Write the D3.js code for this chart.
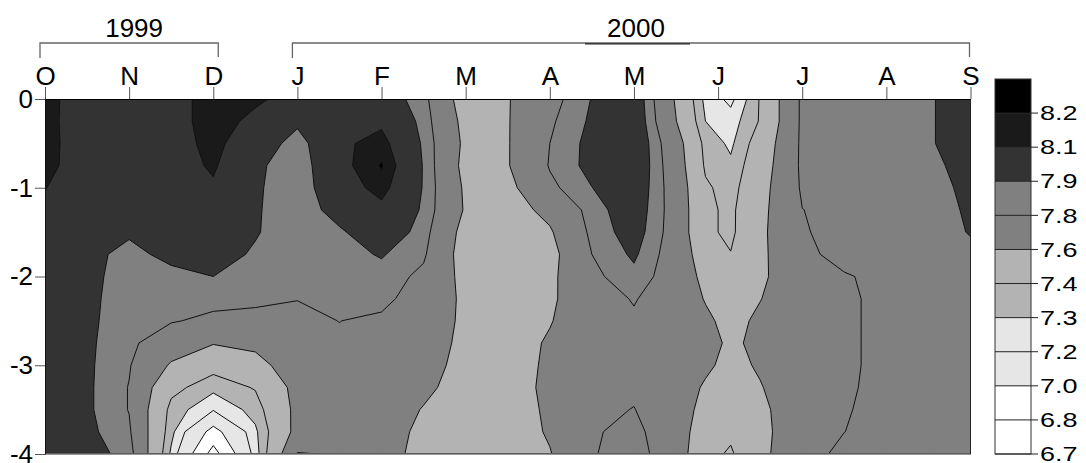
<!DOCTYPE html>
<html>
<head>
<meta charset="utf-8">
<script src="https://cdn.jsdelivr.net/npm/d3@7"></script>
<style>
  html, body { margin: 0; padding: 0; background: #fff; }
  svg { display: block; font-family: "Liberation Sans", Arial, Helvetica, sans-serif; }
</style>
</head>
<body>
<svg id="chart" width="1086" height="463"></svg>
<script>
// ---- data -------------------------------------------------------------
const monthLabels = ['O', 'N', 'D', 'J', 'F', 'M', 'A', 'M', 'J', 'J', 'A', 'S'];
const monthTicks = [0, 1, 2, 3, 4, 5, 6, 7, 8, 9, 10, 11];
const yearLabels = ['1999', '2000'];
const yearFirstMonth = [0, 3];
const yearLastMonth = [2, 11];
const depthTicks = [0, -1, -2, -3, -4];

// depth of each sample in a profile (m)
const depths = [0, -0.25, -0.5, -0.75, -1, -1.25, -1.5, -1.75, -2, -2.25, -2.5, -2.75, -3, -3.25, -3.5, -3.75, -4];
// sampling time of each profile, in months after 1 October 1999
const sampleMonths = [0, 0.5, 1, 1.5, 2, 2.5, 3, 3.5, 4, 4.5, 5, 5.5, 6, 6.5, 7, 7.5, 7.85, 8.15, 8.5, 9, 9.5, 10, 10.5, 11];
// one vertical profile per sampling time, surface to 4 m
const profiles = [
  [8.16, 8.15, 8.15, 8.14, 8.105, 8.07, 8.05, 8.04, 8.03, 8.02, 8.01, 8.0, 8.0, 8.0, 8.0, 8.0, 8.0],
  [7.99, 8.0, 8.01, 8.02, 8.0, 7.97, 7.94, 7.92, 7.92, 7.92, 7.92, 7.92, 7.92, 7.92, 7.92, 7.93, 7.95],
  [8.0, 8.02, 8.03, 8.03, 8.02, 7.98, 7.91, 7.88, 7.87, 7.86, 7.85, 7.83, 7.81, 7.795, 7.795, 7.82, 7.86],
  [8.05, 8.05, 8.04, 8.03, 8.02, 8.0, 7.98, 7.92, 7.88, 7.85, 7.81, 7.70, 7.58, 7.44, 7.36, 7.33, 7.28],
  [8.15, 8.15, 8.14, 8.12, 8.08, 8.04, 8.0, 7.95, 7.9, 7.84, 7.77, 7.61, 7.45, 7.33, 7.21, 6.93, 6.72],
  [8.12, 8.07, 8.0, 7.93, 7.92, 7.915, 7.91, 7.885, 7.86, 7.82, 7.77, 7.64, 7.54, 7.41, 7.34, 7.28, 7.25],
  [8.055, 7.93, 7.84, 7.82, 7.82, 7.82, 7.83, 7.82, 7.815, 7.802, 7.78, 7.77, 7.70, 7.66, 7.65, 7.66, 7.81],
  [8.0, 8.03, 8.07, 8.05, 8.02, 7.96, 7.88, 7.86, 7.85, 7.83, 7.801, 7.79, 7.77, 7.76, 7.77, 7.78, 7.79],
  [7.98, 8.07, 8.15, 8.21, 8.15, 8.06, 8.0, 7.91, 7.86, 7.83, 7.78, 7.75, 7.72, 7.7, 7.7, 7.7, 7.7],
  [7.84, 7.86, 7.88, 7.89, 7.89, 7.88, 7.85, 7.82, 7.77, 7.74, 7.72, 7.7, 7.67, 7.64, 7.59, 7.55, 7.52],
  [7.5, 7.54, 7.56, 7.54, 7.57, 7.58, 7.53, 7.51, 7.54, 7.56, 7.56, 7.55, 7.54, 7.52, 7.5, 7.48, 7.46],
  [7.59, 7.59, 7.59, 7.59, 7.55, 7.52, 7.5, 7.49, 7.49, 7.5, 7.51, 7.52, 7.52, 7.52, 7.51, 7.5, 7.49],
  [7.75, 7.78, 7.8, 7.81, 7.77, 7.65, 7.58, 7.54, 7.56, 7.57, 7.59, 7.62, 7.63, 7.64, 7.63, 7.62, 7.59],
  [7.905, 7.92, 7.94, 7.94, 7.898, 7.85, 7.83, 7.8, 7.77, 7.73, 7.72, 7.72, 7.73, 7.74, 7.76, 7.785, 7.79],
  [8.0, 8.01, 8.02, 8.02, 8.0, 7.98, 7.96, 7.92, 7.87, 7.81, 7.78, 7.76, 7.76, 7.77, 7.805, 7.84, 7.86],
  [7.58, 7.605, 7.68, 7.7, 7.72, 7.73, 7.73, 7.72, 7.72, 7.71, 7.7, 7.7, 7.7, 7.69, 7.68, 7.69, 7.7],
  [7.27, 7.3, 7.36, 7.38, 7.42, 7.43, 7.43, 7.5, 7.55, 7.59, 7.63, 7.66, 7.63, 7.58, 7.55, 7.5, 7.45],
  [7.17, 7.25, 7.28, 7.32, 7.35, 7.37, 7.37, 7.405, 7.46, 7.52, 7.55, 7.57, 7.55, 7.5, 7.47, 7.43, 7.38],
  [7.41, 7.41, 7.47, 7.5, 7.53, 7.55, 7.56, 7.56, 7.57, 7.595, 7.63, 7.64, 7.62, 7.59, 7.56, 7.55, 7.55],
  [7.83, 7.83, 7.83, 7.83, 7.82, 7.798, 7.79, 7.77, 7.72, 7.72, 7.72, 7.72, 7.72, 7.72, 7.72, 7.72, 7.75],
  [7.85, 7.85, 7.85, 7.85, 7.85, 7.84, 7.84, 7.84, 7.79, 7.78, 7.78, 7.78, 7.78, 7.785, 7.79, 7.799, 7.83],
  [7.86, 7.86, 7.86, 7.86, 7.86, 7.86, 7.85, 7.85, 7.83, 7.83, 7.83, 7.83, 7.83, 7.83, 7.84, 7.84, 7.85],
  [7.89, 7.89, 7.89, 7.88, 7.87, 7.87, 7.86, 7.85, 7.84, 7.84, 7.84, 7.84, 7.84, 7.84, 7.84, 7.84, 7.84],
  [7.95, 7.95, 7.95, 7.93, 7.92, 7.91, 7.905, 7.88, 7.87, 7.86, 7.86, 7.86, 7.86, 7.86, 7.86, 7.86, 7.86]
];

// contour levels and the grey used above each of them
const levels = [6.7, 6.8, 7.0, 7.2, 7.3, 7.4, 7.6, 7.8, 7.9, 8.1, 8.2];
const levelFills = ['#ffffff', '#ffffff', '#e6e6e6', '#e6e6e6', '#b3b3b3', '#b3b3b3', '#808080', '#808080', '#333333', '#1a1a1a', '#000000'];

// ---- layout -----------------------------------------------------------
const plot = { left: 45, right: 970.5, top: 99, bottom: 454 };
const legend = { left: 995, width: 36, top: 79, bottom: 454, tick: 43, labelX: 1040 };
const fontSize = 26;

const svg = d3.select('#chart');
const x = d3.scaleLinear().domain([0, 11]).range([plot.left, plot.right]);
const y = d3.scaleLinear().domain([0, -4]).range([plot.top, plot.bottom]);

// ---- contour grid -----------------------------------------------------
const nx = sampleMonths.length, ny = depths.length;
const grid = new Array(nx * ny);
for (let j = 0; j < ny; j++) {
  for (let i = 0; i < nx; i++) grid[j * nx + i] = profiles[i][j];
}

// grid index -> sampling month / depth (piecewise linear between samples)
const colToMonth = d3.scaleLinear().domain(d3.range(nx)).range(sampleMonths).clamp(true);
const rowToDepth = d3.scaleLinear().domain(d3.range(ny)).range(depths).clamp(true);
const toScreen = d3.geoTransform({
  point(gx, gy) {
    this.stream.point(x(colToMonth(gx - 0.5)), y(rowToDepth(gy - 0.5)));
  }
});
const path = d3.geoPath(toScreen);
const bands = d3.contours().size([nx, ny]).thresholds(levels)(grid);

svg.append('defs').append('clipPath').attr('id', 'plot-clip')
  .append('rect')
  .attr('x', plot.left).attr('y', plot.top)
  .attr('width', plot.right - plot.left).attr('height', plot.bottom - plot.top);

const field = svg.append('g').attr('clip-path', 'url(#plot-clip)');
field.append('rect')
  .attr('x', plot.left).attr('y', plot.top)
  .attr('width', plot.right - plot.left).attr('height', plot.bottom - plot.top)
  .attr('fill', '#ffffff');

field.selectAll('path.band')
  .data(bands)
  .join('path')
  .attr('class', 'band')
  .attr('d', path)
  .attr('fill', (d, i) => levelFills[i])
  .attr('stroke', 'none');

field.selectAll('path.isoline')
  .data(bands)
  .join('path')
  .attr('class', 'isoline')
  .attr('d', path)
  .attr('fill', 'none')
  .attr('stroke', '#111')
  .attr('stroke-width', 1)
  .attr('stroke-linejoin', 'miter');

// ---- frame ------------------------------------------------------------
svg.append('line')
  .attr('x1', plot.left).attr('x2', plot.right + 0.5)
  .attr('y1', plot.bottom).attr('y2', plot.bottom)
  .attr('stroke', '#777').attr('stroke-width', 1.5);
svg.append('line')
  .attr('x1', plot.right).attr('x2', plot.right)
  .attr('y1', plot.top).attr('y2', plot.bottom)
  .attr('stroke', '#222').attr('stroke-width', 1);

// ---- axes -------------------------------------------------------------
const topAxis = d3.axisTop(x)
  .tickValues(monthTicks)
  .tickFormat(i => monthLabels[i])
  .tickSize(12).tickSizeOuter(0).tickPadding(2);

svg.append('g')
  .attr('transform', `translate(0,${plot.top})`)
  .call(topAxis)
  .call(g => g.attr('font-size', fontSize).attr('font-family', null))
  .call(g => g.select('.domain').attr('stroke', '#000').attr('stroke-width', 1.2))
  .call(g => g.selectAll('.tick line').attr('stroke', '#555'))
  .call(g => g.selectAll('.tick text').attr('fill', '#000'));

const leftAxis = d3.axisLeft(y)
  .tickValues(depthTicks)
  .tickFormat(d => String(d))
  .tickSize(10).tickSizeOuter(0).tickPadding(2);

svg.append('g')
  .attr('transform', `translate(${plot.left},0)`)
  .call(leftAxis)
  .call(g => g.attr('font-size', fontSize).attr('font-family', null))
  .call(g => g.select('.domain').attr('stroke', '#111'))
  .call(g => g.selectAll('.tick line').attr('stroke', '#555'))
  .call(g => g.selectAll('.tick text').attr('fill', '#000'));

// ---- year brackets ------------------------------------------------------
const bracketY = 43;
yearLabels.forEach((label, k) => {
  const x0 = x(yearFirstMonth[k]) - 5;
  const x1 = Math.min(x(yearLastMonth[k]) + 5, plot.right - 1);
  svg.append('path')
    .attr('d', `M${x0},${bracketY + 15}V${bracketY}H${x1}V${bracketY + 14}`)
    .attr('fill', 'none')
    .attr('stroke', '#666')
    .attr('stroke-width', 1.3);
  const mid = (x0 + x1) / 2 + 5;
  svg.append('text')
    .attr('x', mid).attr('y', bracketY - 6)
    .attr('text-anchor', 'middle')
    .attr('font-size', fontSize)
    .attr('fill', '#000')
    .text(label);
});
// darker rule under the 2000 label
svg.append('line')
  .attr('x1', 585).attr('x2', 690)
  .attr('y1', bracketY + 0.8).attr('y2', bracketY + 0.8)
  .attr('stroke', '#222').attr('stroke-width', 1.2);

// ---- legend -------------------------------------------------------------
const nBox = levels.length;
const ly = d3.scaleLinear().domain([0, nBox]).range([legend.top, legend.bottom]);
const lg = svg.append('g');

lg.selectAll('rect.key')
  .data(d3.range(nBox))
  .join('rect')
  .attr('class', 'key')
  .attr('x', legend.left)
  .attr('y', k => ly(k))
  .attr('width', legend.width)
  .attr('height', k => ly(k + 1) - ly(k))
  .attr('fill', k => levelFills[nBox - 1 - k]);

lg.append('rect')
  .attr('x', legend.left).attr('y', legend.top)
  .attr('width', legend.width).attr('height', legend.bottom - legend.top)
  .attr('fill', 'none').attr('stroke', '#333').attr('stroke-width', 1);

lg.selectAll('line.keytick')
  .data(d3.range(nBox))
  .join('line')
  .attr('class', 'keytick')
  .attr('x1', legend.left).attr('x2', legend.left + legend.tick)
  .attr('y1', k => ly(k + 1)).attr('y2', k => ly(k + 1))
  .attr('stroke', '#222').attr('stroke-width', 1);

lg.selectAll('text.keylabel')
  .data(d3.range(nBox))
  .join('text')
  .attr('class', 'keylabel')
  .attr('transform', k => `translate(${legend.labelX},${ly(k + 1)}) scale(1.35,1)`)
  .attr('dy', '0.36em')
  .attr('font-size', 20)
  .attr('fill', '#000')
  .text(k => levels[nBox - 1 - k].toFixed(1));
</script>
</body>
</html>
